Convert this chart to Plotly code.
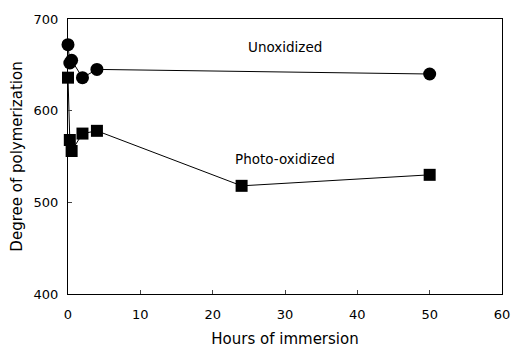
import plotly.graph_objects as go

unox_x = [0, 0.25, 0.5, 2, 4, 50]
unox_y = [672, 652, 655, 636, 645, 640]
photo_x = [0, 0.25, 0.5, 2, 4, 24, 50]
photo_y = [636, 568, 556, 575, 578, 518, 530]
x_ticks = [0, 10, 20, 30, 40, 50, 60]
y_ticks = [400, 500, 600, 700]

font = "DejaVu Sans"
fig = go.Figure()
fig.add_trace(go.Scatter(x=unox_x, y=unox_y, mode="lines+markers",
                         line=dict(color="black", width=1),
                         marker=dict(symbol="circle", size=13, color="black"),
                         cliponaxis=False))
fig.add_trace(go.Scatter(x=photo_x, y=photo_y, mode="lines+markers",
                         line=dict(color="black", width=1),
                         marker=dict(symbol="square", size=12, color="black"),
                         cliponaxis=False))
fig.add_annotation(x=30, y=669, text="Unoxidized", showarrow=False,
                   font=dict(family=font, size=13.5, color="black"))
fig.add_annotation(x=30, y=547, text="Photo-oxidized", showarrow=False,
                   font=dict(family=font, size=13.5, color="black"))
fig.update_layout(
    width=512, height=348,
    margin=dict(l=68, r=10, t=19, b=54),
    paper_bgcolor="white", plot_bgcolor="white",
    showlegend=False,
    font=dict(family=font, size=13, color="black"),
)
fig.update_xaxes(range=[0, 60], tickvals=x_ticks, ticks="inside", ticklen=4,
                 showline=True, linecolor="black", linewidth=1, mirror=True,
                 showgrid=False, zeroline=False, automargin=False,
                 ticklabelstandoff=8,
                 title=dict(text="Hours of immersion", font=dict(size=15), standoff=13),
                 tickfont=dict(size=13))
fig.update_yaxes(range=[400, 700], tickvals=y_ticks, ticks="inside", ticklen=4,
                 showline=True, linecolor="black", linewidth=1, mirror=True,
                 showgrid=False, zeroline=False, automargin=False,
                 ticklabelstandoff=6,
                 title=dict(text="Degree of polymerization", font=dict(size=15), standoff=7),
                 tickfont=dict(size=13))
fig.write_html("out.html")
